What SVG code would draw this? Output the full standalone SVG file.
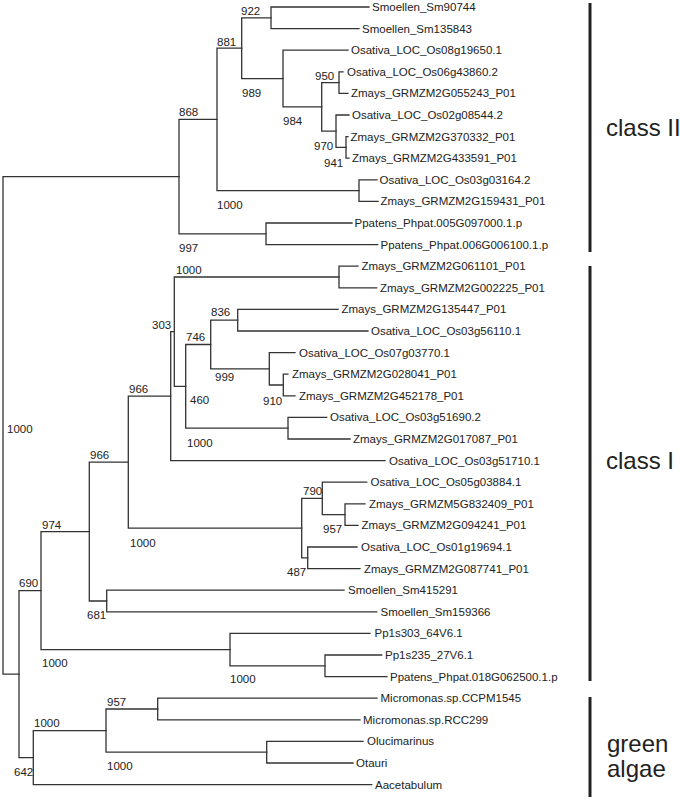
<svg xmlns="http://www.w3.org/2000/svg" width="680" height="801" viewBox="0 0 680 801">
<style>
.e{fill:none;stroke:#333;stroke-width:1.3;stroke-linecap:square}
.t{font-family:"Liberation Sans",Arial,sans-serif;font-size:11.5px;fill:#222}
.c{font-family:"Liberation Sans",Arial,sans-serif;font-size:24px;fill:#222}
.b{stroke:#222;stroke-width:3}
</style>
<rect width="680" height="801" fill="#fff"/>
<g id="connectors" class="e">
<path d="M3,176.6V674.1M3,176.6H179M3,674.1H19"/>
<path d="M179,119.4V233.8M179,119.4H217M179,233.8H266"/>
<path d="M217,48.2V190.6M217,48.2H241.7M217,190.6H359"/>
<path d="M241.7,17.8V78.55M241.7,17.8H271M241.7,78.55H283"/>
<path d="M271,7V28.6M271,7H369M271,28.6H359"/>
<path d="M283,50.2V106.9M283,50.2H348M283,106.9H321.7"/>
<path d="M321.7,82.6V131.2M321.7,82.6H339M321.7,131.2H336"/>
<path d="M339,71.8V93.4M339,71.8H343M339,93.4H348"/>
<path d="M336,115V147.4M336,115H349M336,147.4H346"/>
<path d="M346,136.6V158.2M346,136.6H348M346,158.2H349"/>
<path d="M359,179.8V201.4M359,179.8H377M359,201.4H378"/>
<path d="M266,223V244.6M266,223H352M266,244.6H377.7"/>
<path d="M19,590.6V757.6M19,590.6H41M19,757.6H33.3"/>
<path d="M41,531.55V649.6M41,531.55H89.3M41,649.6H230"/>
<path d="M89.3,462.1V601M89.3,462.1H128.3M89.3,601H106.7"/>
<path d="M106.7,590.2V611.8M106.7,590.2H344M106.7,611.8H376.7"/>
<path d="M128.3,396.1V528.1M128.3,396.1H170.7M128.3,528.1H301.7"/>
<path d="M170.7,331.7V460.6M170.7,331.7H174.3M170.7,460.6H385"/>
<path d="M174.3,277V386.35M174.3,277H339M174.3,386.35H185.7"/>
<path d="M339,266.2V287.8M339,266.2H358M339,287.8H376.7"/>
<path d="M185.7,344.5V428.2M185.7,344.5H210.7M185.7,428.2H288"/>
<path d="M210.7,320.2V368.8M210.7,320.2H237.7M210.7,368.8H269.3"/>
<path d="M237.7,309.4V331M237.7,309.4H338M237.7,331H368"/>
<path d="M269.3,352.6V385M269.3,352.6H295M269.3,385H283.3"/>
<path d="M283.3,374.2V395.8M283.3,374.2H288M283.3,395.8H295"/>
<path d="M288,417.4V439M288,417.4H326.7M288,439H350"/>
<path d="M301.7,498.4V557.8M301.7,498.4H322.3M301.7,557.8H307.7"/>
<path d="M322.3,482.2V514.6M322.3,482.2H366.7M322.3,514.6H345"/>
<path d="M345,503.8V525.4M345,503.8H365M345,525.4H358"/>
<path d="M307.7,547V568.6M307.7,547H357M307.7,568.6H360"/>
<path d="M230,633.4V665.8M230,633.4H370M230,665.8H325"/>
<path d="M325,655V676.6M325,655H381.7M325,676.6H387"/>
<path d="M33.3,730.6V784.6M33.3,730.6H106M33.3,784.6H371.7"/>
<path d="M106,709V752.2M106,709H157.7M106,752.2H266.7"/>
<path d="M157.7,698.2V719.8M157.7,698.2H377M157.7,719.8H360"/>
<path d="M266.7,741.4V763M266.7,741.4H363M266.7,763H353"/>
</g>
<g id="leaves" class="t">
<text x="372" y="11">Smoellen_Sm90744</text>
<text x="362" y="32.6">Smoellen_Sm135843</text>
<text x="351" y="54.2">Osativa_LOC_Os08g19650.1</text>
<text x="347" y="75.8">Osativa_LOC_Os06g43860.2</text>
<text x="351" y="97.4">Zmays_GRMZM2G055243_P01</text>
<text x="352" y="119">Osativa_LOC_Os02g08544.2</text>
<text x="350.5" y="140.6">Zmays_GRMZM2G370332_P01</text>
<text x="352" y="162.2">Zmays_GRMZM2G433591_P01</text>
<text x="379.5" y="183.8">Osativa_LOC_Os03g03164.2</text>
<text x="380.5" y="205.4">Zmays_GRMZM2G159431_P01</text>
<text x="354.5" y="227">Ppatens_Phpat.005G097000.1.p</text>
<text x="380.5" y="248.6">Ppatens_Phpat.006G006100.1.p</text>
<text x="361.5" y="270.2">Zmays_GRMZM2G061101_P01</text>
<text x="380" y="291.8">Zmays_GRMZM2G002225_P01</text>
<text x="341.5" y="313.4">Zmays_GRMZM2G135447_P01</text>
<text x="371" y="335">Osativa_LOC_Os03g56110.1</text>
<text x="299" y="356.6">Osativa_LOC_Os07g03770.1</text>
<text x="292" y="378.2">Zmays_GRMZM2G028041_P01</text>
<text x="299" y="399.8">Zmays_GRMZM2G452178_P01</text>
<text x="330" y="421.4">Osativa_LOC_Os03g51690.2</text>
<text x="353" y="443">Zmays_GRMZM2G017087_P01</text>
<text x="389" y="464.6">Osativa_LOC_Os03g51710.1</text>
<text x="370.5" y="486.2">Osativa_LOC_Os05g03884.1</text>
<text x="369" y="507.8">Zmays_GRMZM5G832409_P01</text>
<text x="361.5" y="529.4">Zmays_GRMZM2G094241_P01</text>
<text x="361" y="551">Osativa_LOC_Os01g19694.1</text>
<text x="364" y="572.6">Zmays_GRMZM2G087741_P01</text>
<text x="348" y="594.2">Smoellen_Sm415291</text>
<text x="380.5" y="615.8">Smoellen_Sm159366</text>
<text x="374.5" y="637.4">Pp1s303_64V6.1</text>
<text x="385" y="659">Pp1s235_27V6.1</text>
<text x="390" y="680.6">Ppatens_Phpat.018G062500.1.p</text>
<text x="380.5" y="702.2">Micromonas.sp.CCPM1545</text>
<text x="363" y="723.8">Micromonas.sp.RCC299</text>
<text x="367" y="745.4">Olucimarinus</text>
<text x="356" y="767">Otauri</text>
<text x="375" y="788.6">Aacetabulum</text>
</g>
<g id="support" class="t">
<text x="241" y="15">922</text>
<text x="217" y="46">881</text>
<text x="315" y="80">950</text>
<text x="242" y="96.7">989</text>
<text x="179" y="116">868</text>
<text x="283" y="125">984</text>
<text x="314" y="149.7">970</text>
<text x="324" y="167">941</text>
<text x="217" y="209">1000</text>
<text x="179" y="251.7">997</text>
<text x="176" y="274">1000</text>
<text x="152" y="329">303</text>
<text x="211" y="316">836</text>
<text x="186" y="341">746</text>
<text x="215" y="380.7">999</text>
<text x="129" y="393">966</text>
<text x="190" y="404">460</text>
<text x="263" y="404.7">910</text>
<text x="7" y="433">1000</text>
<text x="187" y="446.7">1000</text>
<text x="90" y="459">966</text>
<text x="303" y="495">790</text>
<text x="42" y="529">974</text>
<text x="323" y="533">957</text>
<text x="130" y="546.7">1000</text>
<text x="287" y="575.7">487</text>
<text x="19" y="587">690</text>
<text x="87" y="619">681</text>
<text x="42" y="667">1000</text>
<text x="230" y="683">1000</text>
<text x="107" y="705.7">957</text>
<text x="34" y="727.3">1000</text>
<text x="107" y="769.7">1000</text>
<text x="14" y="776">642</text>
</g>
<g id="class-II">
<line class="b" x1="590" y1="3" x2="590" y2="252"/>
<text class="c" x="606" y="136">class II</text>
</g>
<g id="class-I">
<line class="b" x1="590" y1="266" x2="590" y2="681"/>
<text class="c" x="606" y="469">class I</text>
</g>
<g id="green-algae">
<line class="b" x1="590" y1="697" x2="590" y2="797"/>
<text class="c" x="607" y="752">green</text>
<text class="c" x="607" y="777">algae</text>
</g>
</svg>
